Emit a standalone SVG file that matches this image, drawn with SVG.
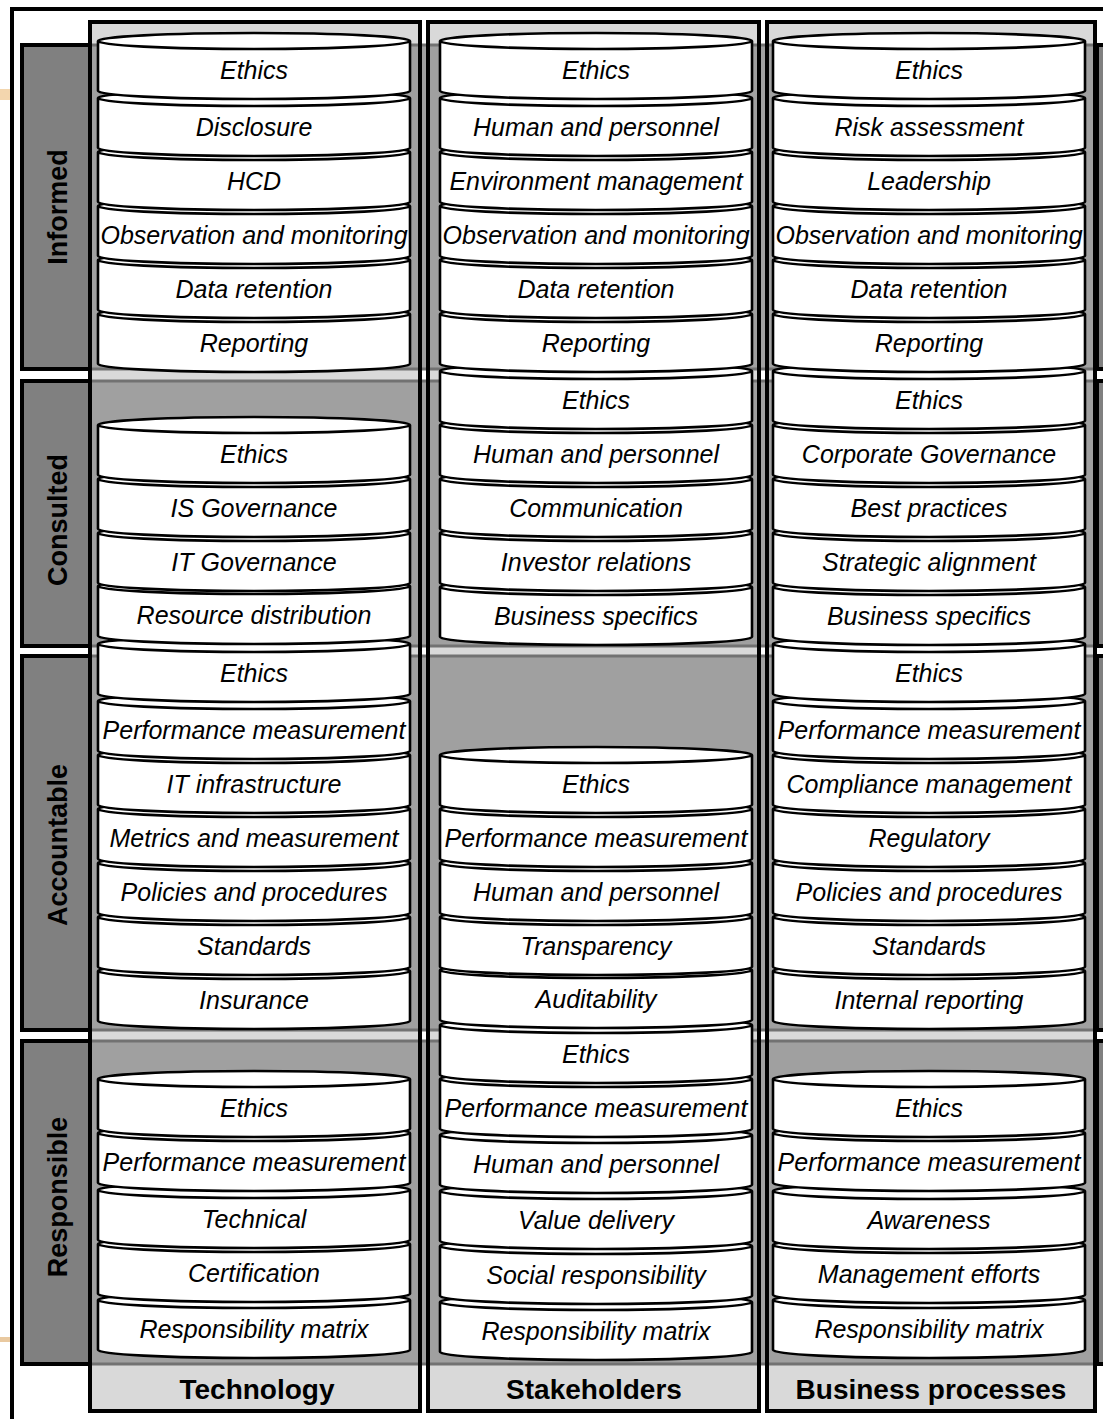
<svg xmlns="http://www.w3.org/2000/svg" xmlns:xlink="http://www.w3.org/1999/xlink" width="1103" height="1419" viewBox="0 0 1103 1419">
<style>
.col{fill:#d9d9d9;stroke:none}
.colb{fill:none;stroke:#000;stroke-width:4}
.band{fill:#a0a0a0;stroke:#727272;stroke-width:3}
.lab{fill:#808080;stroke:#000;stroke-width:4}
.cy{fill:#fff;stroke:#000;stroke-width:2.6}
.t{font-family:"Liberation Sans",Arial,sans-serif;font-style:italic;font-size:25px;text-anchor:middle;fill:#000}
.rl{font-family:"Liberation Sans",Arial,sans-serif;font-weight:bold;font-size:27px;text-anchor:middle;fill:#000}
.cl{font-family:"Liberation Sans",Arial,sans-serif;font-weight:bold;font-size:28px;text-anchor:middle;fill:#000}
</style>
<defs>
<path id="cyl" d="M0,8 V58 A156,8 0 0 0 312,58 V8 A156,8 0 0 0 0,8 Z M0,8 A156,8 0 0 0 312,8"/>
</defs>
<rect width="1103" height="1419" fill="#fff"/>
<rect x="0" y="89" width="10" height="11" fill="#f3d6ae"/>
<rect x="0" y="1337" width="10" height="5" fill="#e9c9a0"/>

<g id="columns-bg">
<rect class="col" x="90" y="22" width="330" height="1389"/>
<rect class="col" x="428" y="22" width="331" height="1389"/>
<rect class="col" x="767" y="22" width="328" height="1389"/>
</g>

<g id="bands">
<rect class="band" x="90" y="45" width="1030" height="324"/>
<rect class="band" x="90" y="381" width="1030" height="265"/>
<rect class="band" x="90" y="656" width="1030" height="374"/>
<rect class="band" x="90" y="1041" width="1030" height="323"/>
<rect class="lab" x="1097" y="45" width="30" height="324"/>
<rect class="lab" x="1097" y="381" width="30" height="265"/>
<rect class="lab" x="1097" y="656" width="30" height="374"/>
<rect class="lab" x="1097" y="1041" width="30" height="323"/>
</g>

<g id="row-informed"><rect class="lab" x="22" y="45" width="68" height="324"/><text class="rl" transform="translate(67,207) rotate(-90)">Informed</text></g>
<g id="row-consulted"><rect class="lab" x="22" y="381" width="68" height="265"/><text class="rl" transform="translate(67,520) rotate(-90)">Consulted</text></g>
<g id="row-accountable"><rect class="lab" x="22" y="656" width="68" height="374"/><text class="rl" transform="translate(67,845) rotate(-90)">Accountable</text></g>
<g id="row-responsible"><rect class="lab" x="22" y="1041" width="68" height="323"/><text class="rl" transform="translate(67,1197) rotate(-90)">Responsible</text></g>

<g id="col-technology"><rect class="colb" x="90" y="22" width="330" height="1389"/><text class="cl" x="257" y="1399">Technology</text></g>
<g id="col-stakeholders"><rect class="colb" x="428" y="22" width="331" height="1389"/><text class="cl" x="594" y="1399">Stakeholders</text></g>
<g id="col-business"><rect class="colb" x="767" y="22" width="328" height="1389"/><text class="cl" x="931" y="1399">Business processes</text></g>

<g id="frame" fill="none" stroke="#000" stroke-width="4">
<path d="M12,1419 V9 H1103"/>
</g>

<g id="connectors"></g>

<g id="tech-stack">
<g id="t-r5"><use href="#cyl" class="cy" x="98" y="1292"/><text class="t" x="254" y="1338">Responsibility matrix</text></g>
<g id="t-r4"><use href="#cyl" class="cy" x="98" y="1236"/><text class="t" x="254" y="1282">Certification</text></g>
<g id="t-r3"><use href="#cyl" class="cy" x="98" y="1182"/><text class="t" x="254" y="1228">Technical</text></g>
<g id="t-r2"><use href="#cyl" class="cy" x="98" y="1125"/><text class="t" x="254" y="1171">Performance measurement</text></g>
<g id="t-r1"><use href="#cyl" class="cy" x="98" y="1071"/><text class="t" x="254" y="1117">Ethics</text></g>
<g id="t-a7"><use href="#cyl" class="cy" x="98" y="963"/><text class="t" x="254" y="1009">Insurance</text></g>
<g id="t-a6"><use href="#cyl" class="cy" x="98" y="909"/><text class="t" x="254" y="955">Standards</text></g>
<g id="t-a5"><use href="#cyl" class="cy" x="98" y="855"/><text class="t" x="254" y="901">Policies and procedures</text></g>
<g id="t-a4"><use href="#cyl" class="cy" x="98" y="801"/><text class="t" x="254" y="847">Metrics and measurement</text></g>
<g id="t-a3"><use href="#cyl" class="cy" x="98" y="747"/><text class="t" x="254" y="793">IT infrastructure</text></g>
<g id="t-a2"><use href="#cyl" class="cy" x="98" y="693"/><text class="t" x="254" y="739">Performance measurement</text></g>
<g id="t-a1"><use href="#cyl" class="cy" x="98" y="636"/><text class="t" x="254" y="682">Ethics</text></g>
<g id="t-c4"><use href="#cyl" class="cy" x="98" y="578"/><text class="t" x="254" y="624">Resource distribution</text></g>
<g id="t-c3"><use href="#cyl" class="cy" x="98" y="525"/><text class="t" x="254" y="571">IT Governance</text></g>
<g id="t-c2"><use href="#cyl" class="cy" x="98" y="471"/><text class="t" x="254" y="517">IS Governance</text></g>
<g id="t-c1"><use href="#cyl" class="cy" x="98" y="417"/><text class="t" x="254" y="463">Ethics</text></g>
<g id="t-i6"><use href="#cyl" class="cy" x="98" y="306"/><text class="t" x="254" y="352">Reporting</text></g>
<g id="t-i5"><use href="#cyl" class="cy" x="98" y="252"/><text class="t" x="254" y="298">Data retention</text></g>
<g id="t-i4"><use href="#cyl" class="cy" x="98" y="198"/><text class="t" x="254" y="244">Observation and monitoring</text></g>
<g id="t-i3"><use href="#cyl" class="cy" x="98" y="144"/><text class="t" x="254" y="190">HCD</text></g>
<g id="t-i2"><use href="#cyl" class="cy" x="98" y="90"/><text class="t" x="254" y="136">Disclosure</text></g>
<g id="t-i1"><use href="#cyl" class="cy" x="98" y="33"/><text class="t" x="254" y="79">Ethics</text></g>
</g>

<g id="stake-stack">
<g id="s-r6"><use href="#cyl" class="cy" x="440" y="1294"/><text class="t" x="596" y="1340">Responsibility matrix</text></g>
<g id="s-r5"><use href="#cyl" class="cy" x="440" y="1238"/><text class="t" x="596" y="1284">Social responsibility</text></g>
<g id="s-r4"><use href="#cyl" class="cy" x="440" y="1183"/><text class="t" x="596" y="1229">Value delivery</text></g>
<g id="s-r3"><use href="#cyl" class="cy" x="440" y="1127"/><text class="t" x="596" y="1173">Human and personnel</text></g>
<g id="s-r2"><use href="#cyl" class="cy" x="440" y="1071"/><text class="t" x="596" y="1117">Performance measurement</text></g>
<g id="s-r1"><use href="#cyl" class="cy" x="440" y="1017"/><text class="t" x="596" y="1063">Ethics</text></g>
<g id="s-a5"><use href="#cyl" class="cy" x="440" y="962"/><text class="t" x="596" y="1008">Auditability</text></g>
<g id="s-a4"><use href="#cyl" class="cy" x="440" y="909"/><text class="t" x="596" y="955">Transparency</text></g>
<g id="s-a3"><use href="#cyl" class="cy" x="440" y="855"/><text class="t" x="596" y="901">Human and personnel</text></g>
<g id="s-a2"><use href="#cyl" class="cy" x="440" y="801"/><text class="t" x="596" y="847">Performance measurement</text></g>
<g id="s-a1"><use href="#cyl" class="cy" x="440" y="747"/><text class="t" x="596" y="793">Ethics</text></g>
<g id="s-c5"><use href="#cyl" class="cy" x="440" y="579"/><text class="t" x="596" y="625">Business specifics</text></g>
<g id="s-c4"><use href="#cyl" class="cy" x="440" y="525"/><text class="t" x="596" y="571">Investor relations</text></g>
<g id="s-c3"><use href="#cyl" class="cy" x="440" y="471"/><text class="t" x="596" y="517">Communication</text></g>
<g id="s-c2"><use href="#cyl" class="cy" x="440" y="417"/><text class="t" x="596" y="463">Human and personnel</text></g>
<g id="s-c1"><use href="#cyl" class="cy" x="440" y="363"/><text class="t" x="596" y="409">Ethics</text></g>
<g id="s-i6"><use href="#cyl" class="cy" x="440" y="306"/><text class="t" x="596" y="352">Reporting</text></g>
<g id="s-i5"><use href="#cyl" class="cy" x="440" y="252"/><text class="t" x="596" y="298">Data retention</text></g>
<g id="s-i4"><use href="#cyl" class="cy" x="440" y="198"/><text class="t" x="596" y="244">Observation and monitoring</text></g>
<g id="s-i3"><use href="#cyl" class="cy" x="440" y="144"/><text class="t" x="596" y="190">Environment management</text></g>
<g id="s-i2"><use href="#cyl" class="cy" x="440" y="90"/><text class="t" x="596" y="136">Human and personnel</text></g>
<g id="s-i1"><use href="#cyl" class="cy" x="440" y="33"/><text class="t" x="596" y="79">Ethics</text></g>
</g>

<g id="business-stack">
<g id="b-r5"><use href="#cyl" class="cy" x="773" y="1292"/><text class="t" x="929" y="1338">Responsibility matrix</text></g>
<g id="b-r4"><use href="#cyl" class="cy" x="773" y="1237"/><text class="t" x="929" y="1283">Management efforts</text></g>
<g id="b-r3"><use href="#cyl" class="cy" x="773" y="1183"/><text class="t" x="929" y="1229">Awareness</text></g>
<g id="b-r2"><use href="#cyl" class="cy" x="773" y="1125"/><text class="t" x="929" y="1171">Performance measurement</text></g>
<g id="b-r1"><use href="#cyl" class="cy" x="773" y="1071"/><text class="t" x="929" y="1117">Ethics</text></g>
<g id="b-a7"><use href="#cyl" class="cy" x="773" y="963"/><text class="t" x="929" y="1009">Internal reporting</text></g>
<g id="b-a6"><use href="#cyl" class="cy" x="773" y="909"/><text class="t" x="929" y="955">Standards</text></g>
<g id="b-a5"><use href="#cyl" class="cy" x="773" y="855"/><text class="t" x="929" y="901">Policies and procedures</text></g>
<g id="b-a4"><use href="#cyl" class="cy" x="773" y="801"/><text class="t" x="929" y="847">Regulatory</text></g>
<g id="b-a3"><use href="#cyl" class="cy" x="773" y="747"/><text class="t" x="929" y="793">Compliance management</text></g>
<g id="b-a2"><use href="#cyl" class="cy" x="773" y="693"/><text class="t" x="929" y="739">Performance measurement</text></g>
<g id="b-a1"><use href="#cyl" class="cy" x="773" y="636"/><text class="t" x="929" y="682">Ethics</text></g>
<g id="b-c5"><use href="#cyl" class="cy" x="773" y="579"/><text class="t" x="929" y="625">Business specifics</text></g>
<g id="b-c4"><use href="#cyl" class="cy" x="773" y="525"/><text class="t" x="929" y="571">Strategic alignment</text></g>
<g id="b-c3"><use href="#cyl" class="cy" x="773" y="471"/><text class="t" x="929" y="517">Best practices</text></g>
<g id="b-c2"><use href="#cyl" class="cy" x="773" y="417"/><text class="t" x="929" y="463">Corporate Governance</text></g>
<g id="b-c1"><use href="#cyl" class="cy" x="773" y="363"/><text class="t" x="929" y="409">Ethics</text></g>
<g id="b-i6"><use href="#cyl" class="cy" x="773" y="306"/><text class="t" x="929" y="352">Reporting</text></g>
<g id="b-i5"><use href="#cyl" class="cy" x="773" y="252"/><text class="t" x="929" y="298">Data retention</text></g>
<g id="b-i4"><use href="#cyl" class="cy" x="773" y="198"/><text class="t" x="929" y="244">Observation and monitoring</text></g>
<g id="b-i3"><use href="#cyl" class="cy" x="773" y="144"/><text class="t" x="929" y="190">Leadership</text></g>
<g id="b-i2"><use href="#cyl" class="cy" x="773" y="90"/><text class="t" x="929" y="136">Risk assessment</text></g>
<g id="b-i1"><use href="#cyl" class="cy" x="773" y="33"/><text class="t" x="929" y="79">Ethics</text></g>
</g>
</svg>
